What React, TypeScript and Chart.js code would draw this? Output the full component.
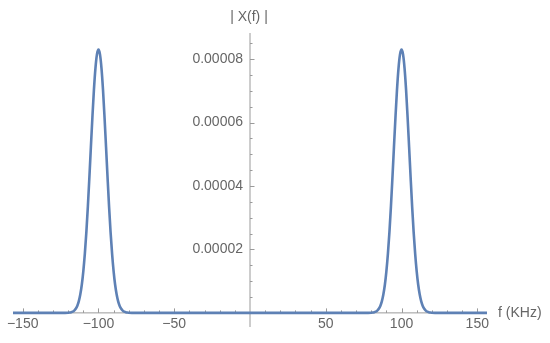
import React, { useEffect, useRef } from "react";
import { Chart, registerables } from "chart.js";

Chart.register(...registerables);

// Frequency samples (KHz)
const frequency = [
  -156.4, -122,
  -120, -119, -118, -117, -116, -115, -114, -113, -112, -111,
  -110, -109, -108, -107, -106, -105, -104, -103, -102, -101,
  -100, -99, -98, -97, -96, -95, -94, -93, -92, -91,
  -90, -89, -88, -87, -86, -85, -84, -83, -82, -81, -80,
  -78, 0, 78,
  80, 81, 82, 83, 84, 85, 86, 87, 88, 89,
  90, 91, 92, 93, 94, 95, 96, 97, 98, 99,
  100, 101, 102, 103, 104, 105, 106, 107, 108, 109,
  110, 111, 112, 113, 114, 115, 116, 117, 118, 119, 120,
  122, 156.4,
];

// |X(f)| values
const magnitude = [
  0, 0,
  0.005e-5, 0.01e-5, 0.021e-5, 0.04e-5, 0.073e-5, 0.13e-5, 0.22e-5, 0.364e-5, 0.58e-5, 0.886e-5,
  1.31e-5, 1.86e-5, 2.54e-5, 3.35e-5, 4.27e-5, 5.23e-5, 6.17e-5, 7.03e-5, 7.71e-5, 8.15e-5,
  8.3e-5, 8.15e-5, 7.71e-5, 7.03e-5, 6.17e-5, 5.23e-5, 4.27e-5, 3.35e-5, 2.54e-5, 1.86e-5,
  1.31e-5, 0.886e-5, 0.58e-5, 0.364e-5, 0.22e-5, 0.13e-5, 0.073e-5, 0.04e-5, 0.021e-5, 0.01e-5, 0.005e-5,
  0, 0, 0,
  0.005e-5, 0.01e-5, 0.021e-5, 0.04e-5, 0.073e-5, 0.13e-5, 0.22e-5, 0.364e-5, 0.58e-5, 0.886e-5,
  1.31e-5, 1.86e-5, 2.54e-5, 3.35e-5, 4.27e-5, 5.23e-5, 6.17e-5, 7.03e-5, 7.71e-5, 8.15e-5,
  8.3e-5, 8.15e-5, 7.71e-5, 7.03e-5, 6.17e-5, 5.23e-5, 4.27e-5, 3.35e-5, 2.54e-5, 1.86e-5,
  1.31e-5, 0.886e-5, 0.58e-5, 0.364e-5, 0.22e-5, 0.13e-5, 0.073e-5, 0.04e-5, 0.021e-5, 0.01e-5, 0.005e-5,
  0, 0,
];

const xMajorTicks = [-150, -100, -50, 50, 100, 150];
const xMajorLabels = ["\u2212150", "\u2212100", "\u221250", "50", "100", "150"];
const xMinorTicks = [
  -140, -130, -120, -110, -90, -80, -70, -60, -40, -30, -20, -10,
  10, 20, 30, 40, 60, 70, 80, 90, 110, 120, 130, 140,
];
const yMajorTicks = [0.00002, 0.00004, 0.00006, 0.00008];
const yMajorLabels = ["0.00002", "0.00004", "0.00006", "0.00008"];
const yMinorTicks = [
  0.000005, 0.00001, 0.000015, 0.000025, 0.00003, 0.000035, 0.000045,
  0.00005, 0.000055, 0.000065, 0.00007, 0.000075, 0.000085,
];

const xAxisLabel = "f (KHz)";
const yAxisLabel = "| X(f) |";

const AXIS_COLOR = "#9a9a9a";
const LABEL_COLOR = "#666666";
const FONT = "14px 'Liberation Sans', Arial, sans-serif";

const axesPlugin = {
  id: "mathAxes",
  beforeDatasetsDraw(chart: any) {
    const { ctx, chartArea } = chart;
    const xs = chart.scales.x;
    const ys = chart.scales.y;
    const x0 = xs.getPixelForValue(0);
    const y0 = ys.getPixelForValue(0);
    ctx.save();
    ctx.strokeStyle = AXIS_COLOR;
    ctx.lineWidth = 1;
    // axis lines
    ctx.beginPath();
    ctx.moveTo(chartArea.left, y0);
    ctx.lineTo(chartArea.right, y0);
    ctx.moveTo(x0, chartArea.top);
    ctx.lineTo(x0, chartArea.bottom);
    ctx.stroke();
    // x ticks
    ctx.beginPath();
    xMajorTicks.forEach((v) => {
      const px = Math.round(xs.getPixelForValue(v)) + 0.5;
      ctx.moveTo(px, y0);
      ctx.lineTo(px, y0 - 4.5);
    });
    xMinorTicks.forEach((v) => {
      const px = Math.round(xs.getPixelForValue(v)) + 0.5;
      ctx.moveTo(px, y0);
      ctx.lineTo(px, y0 - 2.5);
    });
    yMajorTicks.forEach((v) => {
      const py = Math.round(ys.getPixelForValue(v)) + 0.5;
      ctx.moveTo(x0, py);
      ctx.lineTo(x0 + 4.5, py);
    });
    yMinorTicks.forEach((v) => {
      const py = Math.round(ys.getPixelForValue(v)) + 0.5;
      ctx.moveTo(x0, py);
      ctx.lineTo(x0 + 2.5, py);
    });
    ctx.stroke();
    // labels
    ctx.fillStyle = LABEL_COLOR;
    ctx.font = FONT;
    ctx.textBaseline = "middle";
    ctx.textAlign = "center";
    xMajorTicks.forEach((v, i) => {
      ctx.fillText(xMajorLabels[i], xs.getPixelForValue(v), y0 + 11);
    });
    ctx.textAlign = "right";
    yMajorTicks.forEach((v, i) => {
      ctx.fillText(yMajorLabels[i], x0 - 7, ys.getPixelForValue(v));
    });
    ctx.textAlign = "left";
    ctx.fillText(xAxisLabel, chartArea.right + 11, y0);
    ctx.textAlign = "center";
    ctx.fillText(yAxisLabel, x0 - 1, chartArea.top - 16);
    ctx.restore();
  },
};

export default function App() {
  const canvasRef = useRef<HTMLCanvasElement | null>(null);

  useEffect(() => {
    if (!canvasRef.current) return;
    const points = frequency.map((f, i) => ({ x: f, y: magnitude[i] }));
    const chart = new Chart(canvasRef.current, {
      type: "line",
      data: {
        datasets: [
          {
            data: points,
            borderColor: "#5E81B5",
            borderWidth: 2.6,
            pointRadius: 0,
            fill: false,
            cubicInterpolationMode: "monotone",
          },
        ],
      },
      options: {
        animation: false,
        responsive: false,
        maintainAspectRatio: false,
        layout: { padding: { left: 13, right: 63, top: 33, bottom: 16 } },
        scales: {
          x: { type: "linear", min: -156.4, max: 156.4, display: false },
          y: { type: "linear", min: -0.00000445, max: 0.00008825, display: false },
        },
        plugins: {
          legend: { display: false },
          tooltip: { enabled: false },
        },
      },
      plugins: [axesPlugin],
    });
    return () => chart.destroy();
  }, []);

  return (
    <div style={{ position: "fixed", left: 0, top: 0, width: 550, height: 343, background: "#fff" }}>
      <canvas ref={canvasRef} width={550} height={343} style={{ display: "block" }} />
    </div>
  );
}
